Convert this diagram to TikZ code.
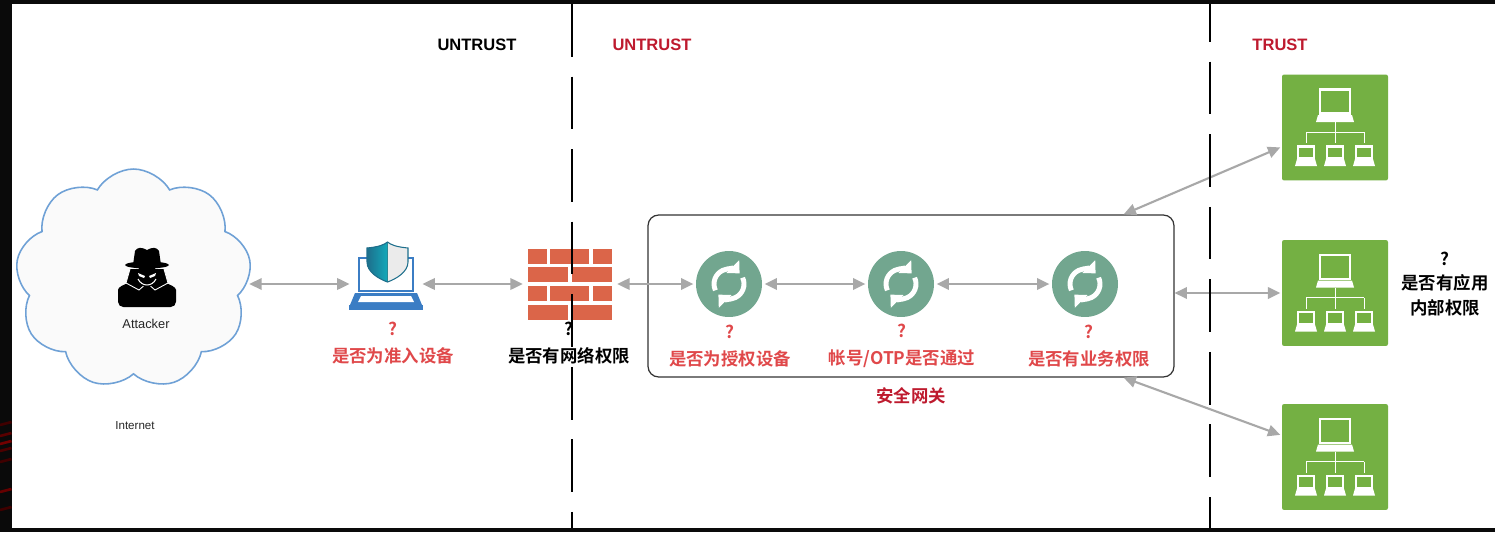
\documentclass[tikz,border=0pt]{standalone}
\usepackage{fontspec}
\setmainfont{Liberation Sans}
\newfontfamily\cjk{Noto Sans CJK SC}[BoldFont={Noto Sans CJK SC Bold}]
\usetikzlibrary{arrows.meta,shapes.symbols}

\definecolor{arrowgray}{HTML}{A8A8A8}
\definecolor{askred}{HTML}{E0484A}
\definecolor{zonered}{HTML}{BE1A2E}
\definecolor{gateteal}{HTML}{72A68F}
\definecolor{srvgreen}{HTML}{74B043}
\definecolor{brick}{HTML}{DB6549}
\definecolor{lapblue}{HTML}{3B7DC4}
\definecolor{shieldteal}{HTML}{1E6F8C}
\definecolor{cloudblue}{HTML}{6FA1D6}

\begin{document}
\begin{tikzpicture}[x=0.02cm,y=0.02cm]
	\tikzstyle{conn}=[draw=arrowgray, line width=1.2pt, {Triangle[length=7pt,width=6.5pt]}-{Triangle[length=7pt,width=6.5pt]}]
	\tikzstyle{zone}=[font=\bfseries\fontsize{9.4}{11}\selectfont]
	\tikzstyle{ask}=[font=\cjk\bfseries\fontsize{9.9}{15.3}\selectfont, align=center]
	\tikzstyle{gate}=[circle, fill=gateteal, minimum size=1.32cm, inner sep=0, outer sep=1.5pt]
	\tikzstyle{srv}=[rectangle, rounded corners=1.2pt, fill=srvgreen, minimum size=2.12cm, inner sep=0, outer sep=1pt]
	\tikzstyle{dline}=[line width=1.15pt, dash pattern=on 30pt off 11.3pt]

	\useasboundingbox (0,0) rectangle (1495,532);
	\fill[black!96] (0,0) rectangle (1495,532);
	\fill[white] (12,4) rectangle (1495,528);
	% red streaks on the dark strip
	\foreach \y/\o in {107/25, 96/35, 88/45, 81/30, 70/25, 40/40, 22/25}
		\draw[red!\o!black, line width=1.5pt] (0,\y) -- (11.5,\y+3);

	% zone titles
	\node[zone] (untrustA) at (477,487) {UNTRUST};
	\node[zone, text=zonered] (untrustB) at (652,487) {UNTRUST};
	\node[zone, text=zonered] (trust) at (1280,487) {TRUST};

	% internet cloud and attacker
	\node[cloud, cloud puffs=9, cloud puff arc=120, aspect=1.08, draw=cloudblue, fill=black!2, line width=0.9pt, minimum width=4.72cm, minimum height=4.4cm, inner sep=0] (cloud) at (133.5,253) {};
	\node[minimum width=1.16cm, minimum height=1.2cm] (att) at (147,254) {};
	\begin{scope}[shift={(att)}]
		\fill[black, rounded corners=3] (-29,-29) -- (-29,-17) .. controls (-29,-9) and (-22,-6) .. (-12,-3) -- (12,-3) .. controls (22,-6) and (29,-9) .. (29,-17) -- (29,-29) -- cycle;
		\fill[black] (-17,9) -- (-21,-5) -- (-8,-12) -- (0,-5) -- (8,-12) -- (21,-5) -- (17,9) -- cycle;
		\draw[white, line width=0.5pt] (-17,9) -- (-21,-5) -- (-8,-12) -- (0,-5) -- (8,-12) -- (21,-5) -- (17,9);
		\fill[black] (0,3) ellipse (10 and 12);
		\draw[white, line width=0.6pt] (-9,-1) .. controls (-5,-9) and (5,-9) .. (9,-1);
		\fill[white] (-9,5) -- (-2,2) -- (-3,0) -- (-8,2) -- cycle;
		\fill[white] (9,5) -- (2,2) -- (3,0) -- (8,2) -- cycle;
		\fill[black] (0,13) ellipse (22 and 3.5);
		\fill[black] (-14,13) -- (-12,27) .. controls (-10,31) and (-5,31) .. (0,28) .. controls (5,31) and (10,31) .. (12,27) -- (14,13) -- cycle;
	\end{scope}
	\node[font=\fontsize{7.3}{9}\selectfont, text=black!85] (attl) at (146,208) {Attacker};
	\node[font=\fontsize{6.6}{8}\selectfont, text=black!85] (inet) at (135,106) {Internet};

	% admitted device
	\node[minimum width=1.32cm, minimum height=1.4cm, inner sep=0, outer sep=2pt] (pc) at (386,248) {};
	\begin{scope}[shift={(pc)}]
		\draw[lapblue, line width=1.7pt, fill=white] (-27,-7) rectangle (27,26);
		\fill[lapblue] (-31,-9) -- (31,-9) -- (36,-21) -- (-36,-21) -- cycle;
		\fill[white] (-25,-12) -- (25,-12) -- (28,-18) -- (-28,-18) -- cycle;
		\fill[lapblue] (-37,-21) rectangle (37,-26);
		% shield
		\fill[black!8] (-19,36) .. controls (-8,37) and (-2,39) .. (1.5,42) .. controls (5,39) and (11,37) .. (22,36) -- (22,22) .. controls (22,12) and (10,5) .. (1.5,2) .. controls (-7,5) and (-19,12) .. (-19,22) -- cycle;
		\fill[left color=shieldteal, right color=shieldteal!60!cyan] (-19,36) .. controls (-8,37) and (-2,39) .. (1.5,42) -- (1.5,2) .. controls (-7,5) and (-19,12) .. (-19,22) -- cycle;
		\draw[shieldteal, line width=0.6pt] (-19,36) .. controls (-8,37) and (-2,39) .. (1.5,42) .. controls (5,39) and (11,37) .. (22,36) -- (22,22) .. controls (22,12) and (10,5) .. (1.5,2) .. controls (-7,5) and (-19,12) .. (-19,22) -- cycle;
	\end{scope}
	\node[ask, text=askred] (pcq) at (393,189) {?\\是否为准入设备};

	% network firewall
	\node[minimum width=1.68cm, minimum height=1.42cm, inner sep=0, outer sep=3pt] (fw) at (570,248) {};
	\begin{scope}[shift={(fw)}]
		\foreach \t in {35.5,-1.5} {
			\fill[brick] (-42,\t) rectangle (-23,\t-15);
			\fill[brick] (-20,\t) rectangle (19,\t-15);
			\fill[brick] (23,\t) rectangle (42,\t-15);
		}
		\foreach \t in {17.5,-20.5} {
			\fill[brick] (-42,\t) rectangle (-2,\t-15);
			\fill[brick] (2,\t) rectangle (42,\t-15);
		}
	\end{scope}
	\node[ask] (fwq) at (569,189) {?\\是否有网络权限};

	% security gateway
	\node[draw=black!80, line width=0.7pt, rounded corners=6pt, minimum width=10.52cm, minimum height=3.24cm] (gw) at (911,236) {};
	\node[gate] (g1) at (729,248) {};
	\node[gate] (g2) at (901,248) {};
	\node[gate] (g3) at (1085,248) {};
	\foreach \n in {g1,g2,g3} {
		\begin{scope}[shift={(\n)}]
			\draw[white, line width=2.8pt, -{Triangle[length=5.5pt,width=10pt]}] (205:15) arc (205:45:15);
			\draw[white, line width=2.8pt, -{Triangle[length=5.5pt,width=10pt]}] (25:15) arc (25:-135:15);
		\end{scope}
	}
	\node[ask, text=askred] (g1q) at (730,186) {?\\是否为授权设备};
	\node[ask, text=askred] (g2q) at (902,186) {?\\帐号/OTP是否通过};
	\node[ask, text=askred] (g3q) at (1089,186) {?\\是否有业务权限};
	\node[ask, text=zonered] (gwl) at (911,136) {安全网关};

	% trusted application servers
	\node[srv] (srvA) at (1335,404.5) {};
	\node[srv] (srvB) at (1335,239) {};
	\node[srv] (srvC) at (1335,75) {};
	\foreach \n in {srvA,srvB,srvC} {
		\begin{scope}[shift={(\n)}]
			\draw[white, line width=1.6pt] (-15,14) rectangle (15,38);
			\fill[white] (-17,12.5) -- (17,12.5) -- (19,5.5) -- (-19,5.5) -- cycle;
			\draw[white, line width=0.5pt] (0,5.5) -- (0,-4.5) (-29,-4.5) -- (29,-4.5);
			\foreach \c in {-29,0,29} {
				\draw[white, line width=0.5pt] (\c,-4.5) -- (\c,-15.5);
				\draw[white, line width=1.2pt] (\c-8,-19) rectangle (\c+8,-31);
				\fill[white] (\c-9,-31.5) -- (\c+9,-31.5) -- (\c+11,-38.5) -- (\c-11,-38.5) -- cycle;
			}
		\end{scope}
	}
	\node[ask, font=\cjk\bfseries\fontsize{9.9}{14}\selectfont] (appq) at (1445,248) {?\\是否有应用\\内部权限};

	% connectors
	\draw[conn] (cloud.east |- pc.west) -- (pc.west);
	\foreach \from/\to in {pc/fw,fw/g1,g1/g2,g2/g3}
		\draw[conn] (\from) -- (\to);
	\draw[conn] (gw.21) -- (srvA.200);
	\draw[conn] (gw.east |- srvB.west) -- (srvB.west);
	\draw[conn] (gw.339) -- (srvC.158);

	% zone borders
	\draw[dline] (572,528) -- (572,4);
	\draw[dline, dash phase=8.5pt] (1210,528) -- (1210,4);
\end{tikzpicture}
\end{document}
